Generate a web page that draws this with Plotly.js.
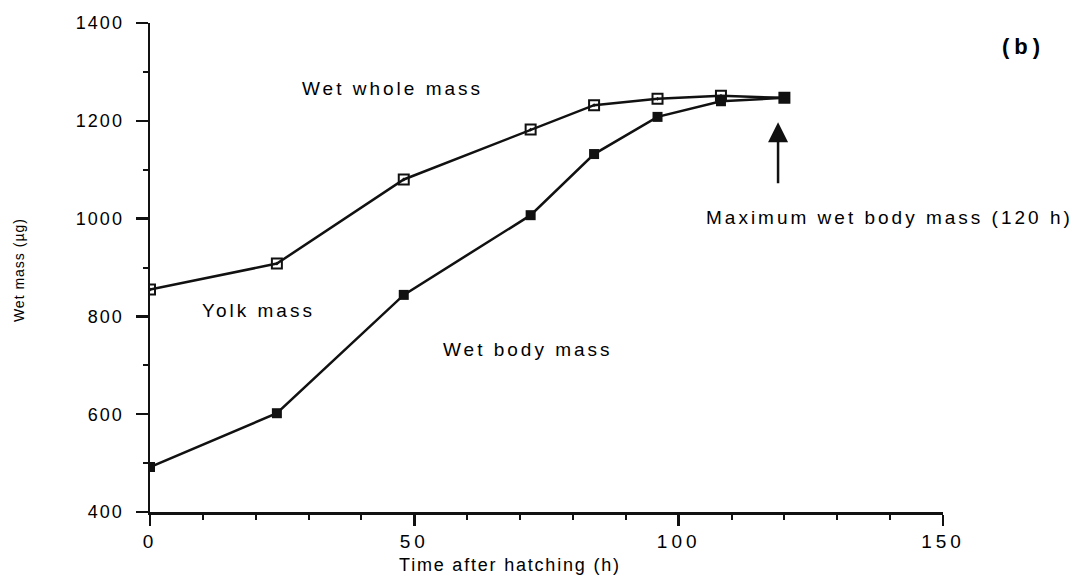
<!DOCTYPE html>
<html><head><meta charset="utf-8">
<script src="https://cdn.plot.ly/plotly-3.0.1.min.js"></script>
<style>html,body{margin:0;padding:0;background:#fff;}#chart{width:1083px;height:587px;}</style>
</head><body><div id="chart"></div>
<script>
const hours = [0, 24, 48, 72, 84, 96, 108, 120];
const wholeMass = [855, 908, 1080, 1182, 1232, 1245, 1251, 1247];
const bodyMass = [492, 602, 844, 1007, 1132, 1208, 1240, 1247];
const xTickVals = [0, 50, 100, 150];
const xTickLabels = ['0', '50', '100', '150'];
const yTickVals = [400, 600, 800, 1000, 1200, 1400];
const yTickLabels = ['400', '600', '800', '1000', '1200', '1400'];

const font = 'Liberation Sans, Arial, Helvetica, sans-serif';
const sp = (t, px) => '<span style="letter-spacing:' + px + 'px">' + t + '</span>';

const traces = [
  {x: hours, y: wholeMass, mode: 'lines+markers', name: 'Wet whole mass',
   line: {color: '#111', width: 2.5},
   marker: {symbol: 'square-open-dot', size: 10, color: '#111', line: {width: 2, color: '#111'}}},
  {x: hours, y: bodyMass, mode: 'lines+markers', name: 'Wet body mass',
   line: {color: '#111', width: 2.5},
   marker: {symbol: 'square', size: 10, color: '#111'}}
];

const layout = {
  width: 1083, height: 587,
  margin: {l: 150, r: 140, t: 23, b: 75},
  paper_bgcolor: '#fff', plot_bgcolor: '#fff',
  showlegend: false,
  font: {family: font, color: '#000'},
  xaxis: {range: [0, 150], showgrid: false, zeroline: false, showline: true, linecolor: '#111', linewidth: 2.5,
    tickmode: 'array', tickvals: xTickVals, ticktext: xTickLabels.map(t => sp(t, 4)),
    ticks: 'outside', ticklen: 11, tickwidth: 2.5, tickcolor: '#111',
    tickfont: {size: 19, family: font},
    minor: {dtick: 10, ticks: 'outside', ticklen: 5, tickwidth: 2, tickcolor: '#111'}},
  yaxis: {range: [400, 1400], showgrid: false, zeroline: false, showline: true, linecolor: '#111', linewidth: 2.5,
    tickmode: 'array', tickvals: yTickVals, ticktext: yTickLabels.map(t => sp(t, 2)),
    ticks: 'outside', ticklen: 12, tickwidth: 2.5, tickcolor: '#111',
    tickfont: {size: 18, family: font}, ticklabelstandoff: 8,
    minor: {dtick: 100, ticks: 'outside', ticklen: 5, tickwidth: 2, tickcolor: '#111'}},
  annotations: [
    {x: 45.8, y: 1267, text: sp('Wet whole mass', 3), showarrow: false, font: {size: 19, family: font}},
    {x: 20.6, y: 813, text: sp('Yolk mass', 3), showarrow: false, font: {size: 19, family: font}},
    {x: 71.5, y: 733, text: sp('Wet body mass', 3), showarrow: false, font: {size: 19, family: font}},
    {x: 139.8, y: 1003, text: sp('Maximum wet body mass (120 h)', 3), showarrow: false, font: {size: 19, family: font}},
    {x: 118.8, y: 1197, ax: 118.8, ay: 1069, axref: 'x', ayref: 'y', text: '', showarrow: true,
     arrowhead: 2, arrowsize: 1.6, arrowwidth: 2.5, arrowcolor: '#111'},
    {xref: 'paper', yref: 'paper', x: 1.101, y: 0.951, xanchor: 'center', yanchor: 'middle',
     text: '<b>' + sp('(b)', 5) + '</b>', showarrow: false, font: {size: 22, family: font}},
    {xref: 'paper', yref: 'paper', x: 0.454, y: -0.108, xanchor: 'center', yanchor: 'middle',
     text: sp('Time after hatching (h)', 1.8), showarrow: false, font: {size: 18, family: font}},
    {xref: 'paper', yref: 'paper', x: -0.165, y: 0.495, xanchor: 'center', yanchor: 'middle', textangle: -90,
     text: sp('Wet mass (\u00b5g)', 1), showarrow: false, font: {size: 14, family: font}}
  ]
};

Plotly.newPlot('chart', traces, layout, {displayModeBar: false, staticPlot: true});
</script></body></html>
